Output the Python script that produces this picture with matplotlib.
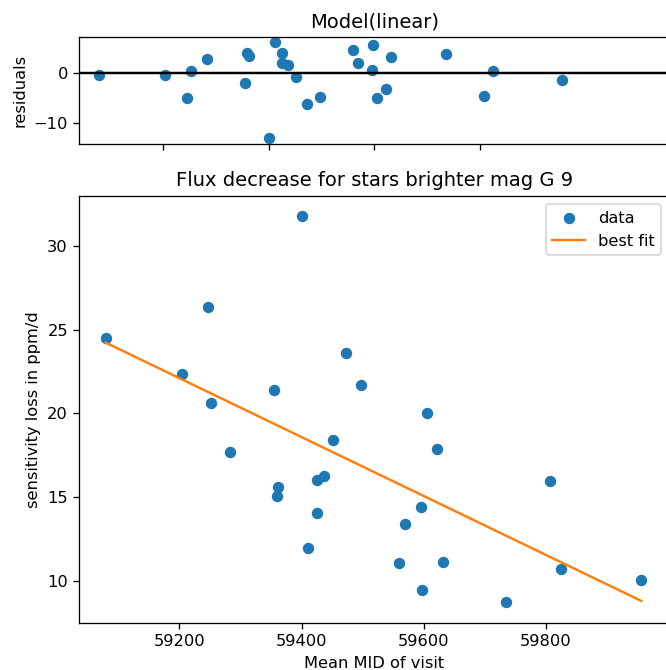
import numpy as np
import matplotlib
matplotlib.use("Agg")
import matplotlib.pyplot as plt

# mean MJD of each visit and the measured sensitivity loss
mjd = [59079, 59204, 59246, 59252, 59283, 59355, 59359, 59362, 59400,
       59411, 59425, 59425, 59436, 59452, 59472, 59497, 59560, 59569,
       59595, 59597, 59605, 59622, 59631, 59735, 59807, 59825, 59956]
loss = [24.52, 22.37, 26.37, 20.63, 17.71, 21.41, 15.08, 15.62, 31.77,
        11.97, 16.02, 14.03, 16.24, 18.42, 23.60, 21.71, 11.06, 13.41,
        14.38, 9.43, 20.00, 17.87, 11.12, 8.73, 15.96, 10.70, 10.06]

x = np.array(mjd, dtype=float)
y = np.array(loss)

# linear model
coef = np.polyfit(x, y, 1)
model = np.polyval(coef, x)
resid = model - y

dpi = 117
fig = plt.figure(figsize=(666 / dpi, 670 / dpi), dpi=dpi)
ax1 = fig.add_axes([0.119, 0.785, 0.886, 0.160])
ax2 = fig.add_axes([0.119, 0.0706, 0.886, 0.637])

# residuals panel
ax1.scatter(x, resid)
ax1.axhline(0, color='k')
ax1.set_xlim(59041, 60159)
ax1.set_ylim(-14.34, 7.42)
ax1.set_xticks([59200, 59400, 59600, 59800])
ax1.tick_params(labelbottom=False)
ax1.set_ylabel("residuals")
ax1.set_title("Model(linear)")

# data + fit
order = np.argsort(x)
ax2.scatter(x, y, label="data")
ax2.plot(x[order], model[order], color='C1', label="best fit")
ax2.set_xlim(59036, 60002)
ax2.set_ylim(7.49, 33.0)
ax2.set_xticks([59200, 59400, 59600, 59800])
ax2.set_xlabel("Mean MID of visit")
ax2.set_ylabel("sensitivity loss in ppm/d")
ax2.set_title("Flux decrease for stars brighter mag G 9")
ax2.legend(loc="upper right")

fig.savefig("out.png", dpi=dpi)
